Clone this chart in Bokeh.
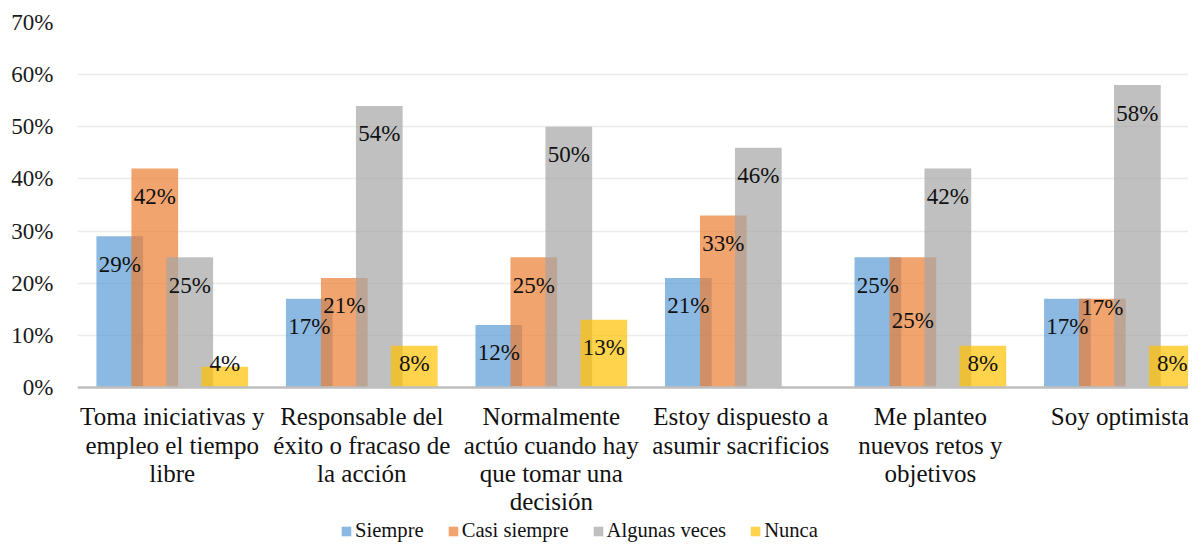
from bokeh.plotting import figure
from bokeh.models import ColumnDataSource, Range1d, FixedTicker, PrintfTickFormatter, Legend, LegendItem, Span
from bokeh.core.properties import value
from bokeh.embed import file_html
from bokeh.resources import INLINE

categories = [
    "Toma iniciativas y\nempleo el tiempo\nlibre",
    "Responsable del\néxito o fracaso de\nla acción",
    "Normalmente\nactúo cuando hay\nque tomar una\ndecisión",
    "Estoy dispuesto a\nasumir sacrificios",
    "Me planteo\nnuevos retos y\nobjetivos",
    "Soy optimista",
]
series_names = ["Siempre", "Casi siempre", "Algunas veces", "Nunca"]
siempre = [29, 17, 12, 21, 25, 17]
casi_siempre = [42, 21, 25, 33, 25, 17]
algunas_veces = [25, 54, 50, 46, 42, 58]
nunca = [4, 8, 13, 0, 8, 8]
y_ticks = [0, 10, 20, 30, 40, 50, 60, 70]

series_values = [siempre, casi_siempre, algunas_veces, nunca]
colors = ["#5B9BD5", "#ED7D31", "#A5A5A5", "#FFC000"]
offsets = [-0.277, -0.0923, 0.0923, 0.277]
bar_w = 0.2465
FONT = "Liberation Serif"

# manual label nudges (px, positive = down) for labels moved in the original
nudges = {(4, 1): 35, (5, 1): -19}

p = figure(width=1188, height=544, output_backend="svg", toolbar_location=None,
           x_range=Range1d(0, 5.862), y_range=Range1d(-30.11, 70),
           x_axis_location=None, min_border_left=77, min_border_right=0,
           min_border_top=22, min_border_bottom=0)
p.outline_line_color = None
p.background_fill_color = "white"
p.border_fill_color = "white"
p.xgrid.visible = False
p.ygrid.ticker = FixedTicker(ticks=y_ticks)
p.ygrid.grid_line_color = "#ebebeb"
p.ygrid.grid_line_width = 1.5

ax = p.yaxis[0]
ax.ticker = FixedTicker(ticks=y_ticks)
ax.formatter = PrintfTickFormatter(format="%d%%")
ax.axis_line_color = None
ax.major_tick_line_color = None
ax.minor_tick_line_color = None
ax.major_tick_out = 0
ax.major_tick_in = 0
ax.major_label_standoff = 24
ax.major_label_text_font = FONT
ax.major_label_text_font_size = "23px"
ax.major_label_text_color = "#1a1a1a"

renderers = []
for si, (vals, col) in enumerate(zip(series_values, colors)):
    xs = [i + 0.5 + offsets[si] for i in range(len(categories))]
    src = ColumnDataSource(dict(x=xs, top=vals))
    r = p.vbar(x="x", top="top", width=bar_w, bottom=0, source=src,
               fill_color=col, fill_alpha=0.7, line_color=None)
    renderers.append(r)

p.add_layout(Span(location=0, dimension="width", line_color="#bfbfbf", line_width=2.5))

# data labels
lx, ly, lt, lo = [], [], [], []
for si, vals in enumerate(series_values):
    for ci, v in enumerate(vals):
        if v == 0:
            continue
        lx.append(ci + 0.5 + offsets[si])
        ly.append(max(v - 5.37, 4.6))
        lt.append(f"{v}%")
        lo.append(nudges.get((ci, si), 0))
p.text(x="x", y="y", text="t", y_offset="o",
       source=ColumnDataSource(dict(x=lx, y=ly, t=lt, o=lo)),
       text_font=value(FONT), text_font_size="23px", text_color="#111111",
       text_align="center", text_baseline="middle")

# category labels
p.text(x=[i + 0.5 for i in range(len(categories))], y=[0] * len(categories), text=categories,
       y_offset=16, text_font=value(FONT), text_font_size="25px", text_color="#111111",
       text_align="center", text_baseline="top", text_line_height=1.04)

legend = Legend(items=[LegendItem(label=n, renderers=[r]) for n, r in zip(series_names, renderers)],
                orientation="horizontal", location=(263, 2),
                glyph_width=12, glyph_height=12, label_standoff=3, spacing=23,
                padding=0, margin=0, border_line_color=None, background_fill_alpha=0,
                label_text_font=FONT, label_text_font_size="20.6px", label_text_color="#111111")
p.add_layout(legend, "center")

open("out.html", "w").write(file_html(p, INLINE))
